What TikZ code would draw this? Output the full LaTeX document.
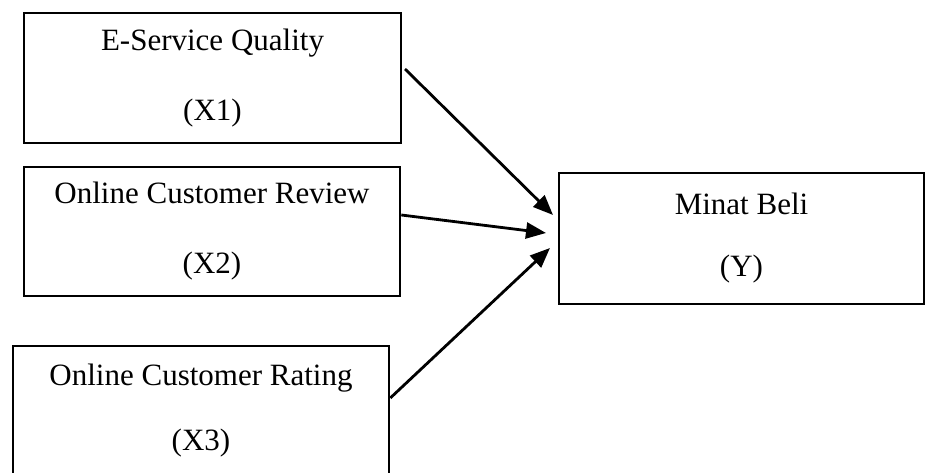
\documentclass[tikz,border=0pt]{standalone}
\usepackage{fontspec}
\setmainfont{Liberation Serif}
\usetikzlibrary{arrows.meta}
\tikzset{
  box/.style={draw=black, line width=2.6pt, inner sep=0pt, align=center,
    font=\fontsize{31}{70}\selectfont},
  link/.style={line width=2.8pt, -{Triangle[length=20pt,width=16pt]}}
}
\begin{document}
\begin{tikzpicture}[x=1pt,y=-1pt]
\useasboundingbox (0,0) rectangle (925,473);
\clip (0,0) rectangle (925,473);
\node[box, minimum width=377pt, minimum height=130pt] (x1) at (212.5,78) {E-Service Quality\\(X1)};
\node[box, minimum width=376pt, minimum height=129pt] (x2) at (212,231.5) {Online Customer Review\\(X2)};
\node[box, minimum width=376pt, minimum height=130pt] (x3) at (201,411) {Online Customer Rating\\[-5pt](X3)};
\node[box, minimum width=365pt, minimum height=131pt] (y) at (741.5,238.5) {Minat Beli\\[-8pt](Y)};
\coordinate (s1) at (405,69);
\coordinate (e1) at (553,215);
\coordinate (e2) at (546,233);
\coordinate (e3) at (550,248);
\draw[link] (s1) -- (e1);
\draw[link] (x2.east |- 0,215) -- (e2);
\draw[link] (x3.east |- 0,398) -- (e3);
\end{tikzpicture}
\end{document}
